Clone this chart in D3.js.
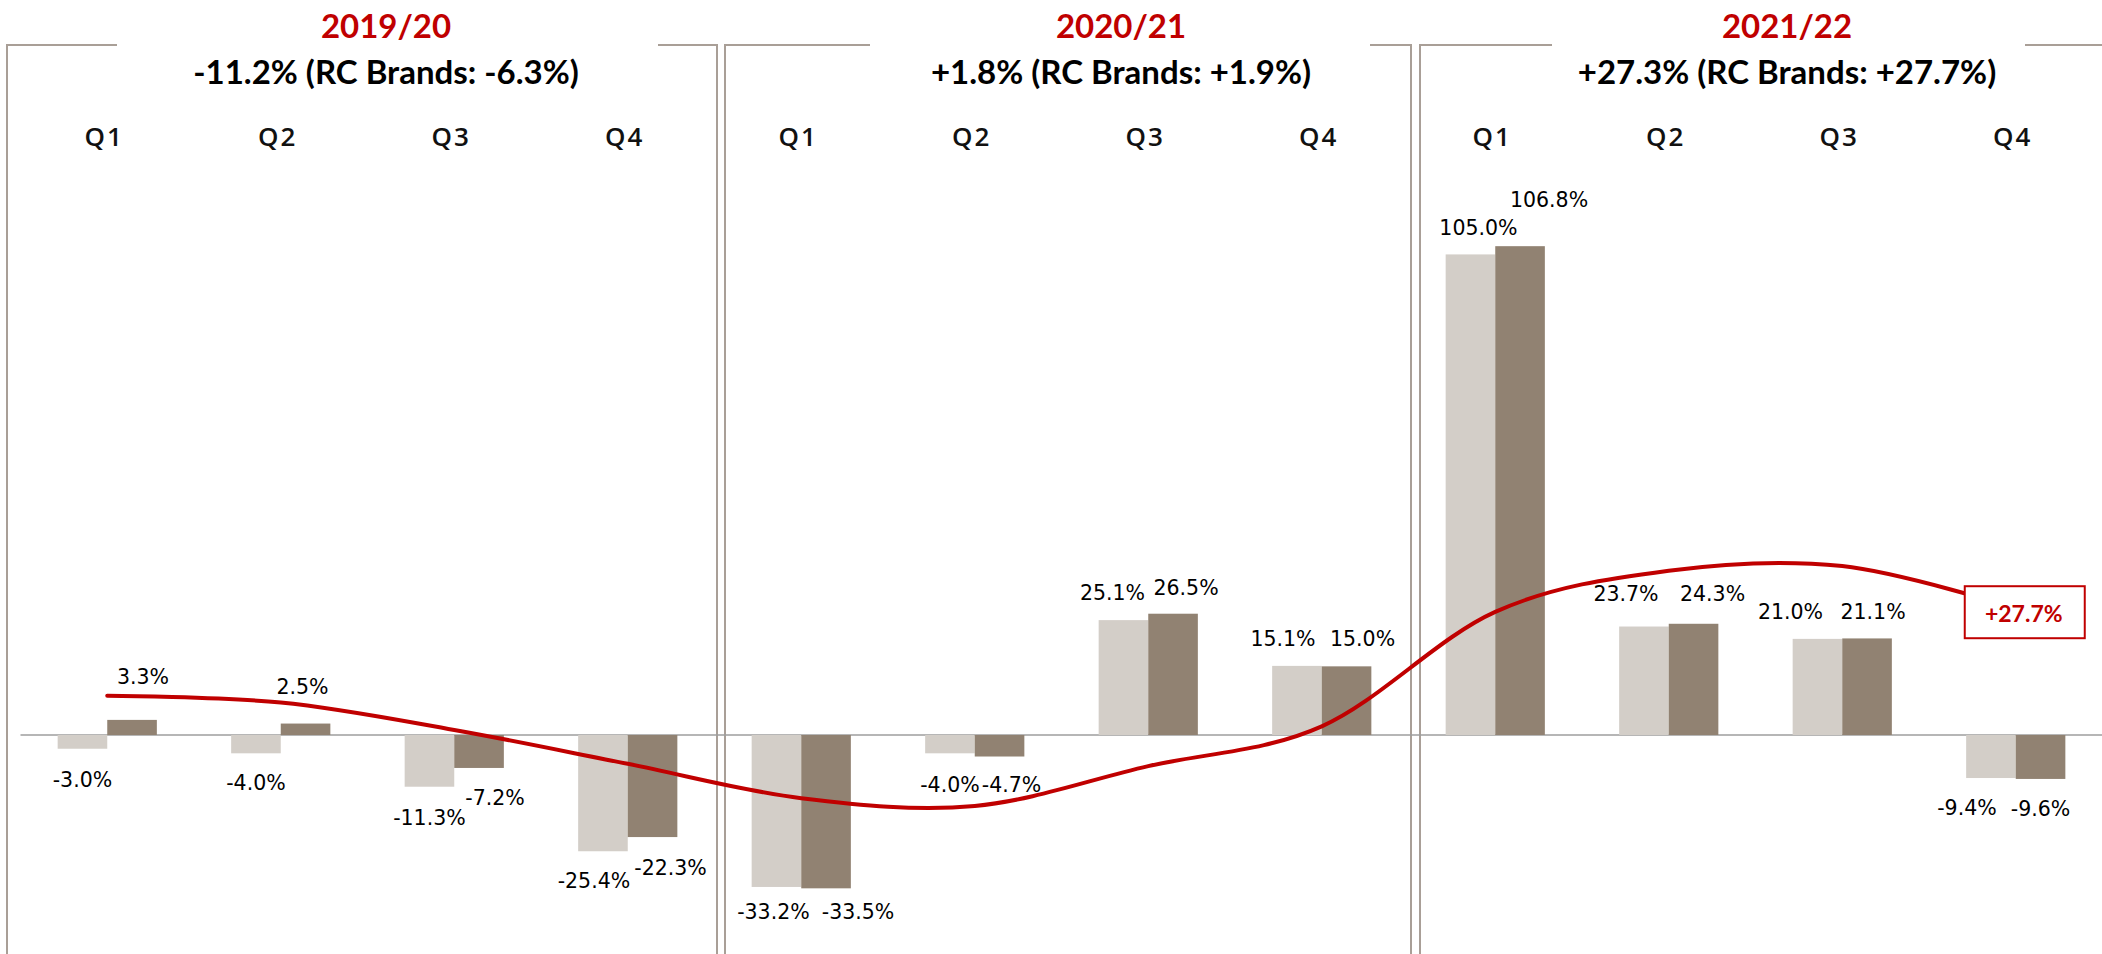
<!DOCTYPE html>
<html>
<head>
<meta charset="utf-8">
<script src="https://cdn.jsdelivr.net/npm/d3@7"></script>
<style>
  html, body { margin: 0; padding: 0; background: #fff; }
  svg { display: block; }
</style>
</head>
<body>
<svg id="chart" width="2102" height="954"></svg>
<script>
// ---------------- data ----------------
const years = ["2019/20", "2020/21", "2021/22"];
const yearSummary = ["-11.2% (RC Brands: -6.3%)", "+1.8% (RC Brands: +1.9%)", "+27.3% (RC Brands: +27.7%)"];
const quarters = ["Q1", "Q2", "Q3", "Q4"];
const categories = years.flatMap(y => quarters.map(q => y + " " + q));
const totalGrowth    = [-3.0, -4.0, -11.3, -25.4, -33.2, -4.0, 25.1, 15.1, 105.0, 23.7, 21.0, -9.4];
const rcBrandsGrowth = [ 3.3,  2.5,  -7.2, -22.3, -33.5, -4.7, 26.5, 15.0, 106.8, 24.3, 21.1, -9.6];
const rcBrandsLTM    = [ 8.6,  7.1,   1.1,  -6.3, -13.8, -15.5, -6.8, 1.9, 26.9, 35.9, 36.9, 27.7];
const calloutText = "+27.7%";

// ---------------- layout (label nudges, panels) ----------------
const nudgeTotal = [[0,31],[0,30],[0,31],[-9,30],[-3,25],[0,32],[-11,-27],[-14,-27],[8,-26],[-18,-33],[-27,-27],[-24,30]];
const nudgeRc    = [[11,-43],[-3,-37],[16,30],[18,31],[32,24],[12,28],[13,-26],[16,-27],[29,-46],[19,-30],[6,-26],[0,30]];
const panels = [
  {left: 7,    right: 717,  gapL: 117,  gapR: 658,  cx: 386},
  {left: 725,  right: 1411, gapL: 870,  gapR: 1370, cx: 1121},
  {left: 1420, right: null, gapL: 1552, gapR: 2025, cx: 1787}
];

const W = 2102, H = 954;
const svg = d3.select("#chart");

const x = d3.scaleBand().domain(categories).range([20.5, 2102.5]).paddingInner(0).paddingOuter(0);
const barW = 49.6;
const xs = d3.scaleBand().domain(["total", "rc"])
  .range([x.bandwidth() / 2 - barW, x.bandwidth() / 2 + barW]).padding(0);
const y = d3.scaleLinear().domain([0, 100]).range([735, 277.3]);

const RED = "#C00000", LIGHT = "#D3CEC8", DARK = "#918272", BORDER = "#A99F97";

// panels
const gP = svg.append("g");
panels.forEach((p, i) => {
  gP.append("line").attr("x1", p.left).attr("x2", p.left).attr("y1", 45).attr("y2", H + 5)
    .attr("stroke", BORDER).attr("stroke-width", 2);
  if (p.right !== null)
    gP.append("line").attr("x1", p.right).attr("x2", p.right).attr("y1", 45).attr("y2", H + 5)
      .attr("stroke", BORDER).attr("stroke-width", 2);
  gP.append("line").attr("x1", p.left - 1).attr("x2", p.gapL).attr("y1", 45).attr("y2", 45)
    .attr("stroke", BORDER).attr("stroke-width", 2);
  gP.append("line").attr("x1", p.gapR).attr("x2", p.right !== null ? p.right + 1 : W).attr("y1", 45).attr("y2", 45)
    .attr("stroke", BORDER).attr("stroke-width", 2);
  gP.append("text").attr("x", p.cx).attr("y", 38).attr("text-anchor", "middle")
    .attr("font-family", "Lato, 'Open Sans', sans-serif").attr("font-weight", 700).attr("font-size", 33)
    .attr("fill", RED).text(years[i]);
  gP.append("text").attr("x", p.cx).attr("y", 84).attr("text-anchor", "middle")
    .attr("font-family", "Lato, 'Open Sans', sans-serif").attr("font-weight", 700).attr("font-size", 33)
    .attr("fill", "#000").text(yearSummary[i]);
});

// quarter labels
svg.append("g").selectAll("text").data(categories).join("text")
  .attr("x", d => x(d) + x.bandwidth() / 2 - 3)
  .attr("y", 145.5)
  .attr("text-anchor", "middle")
  .attr("font-family", "'Open Sans', sans-serif").attr("font-weight", 600).attr("font-size", 26)
  .attr("letter-spacing", 2)
  .attr("fill", "#111")
  .text(d => d.split(" ")[1]);

// zero line
svg.append("line").attr("x1", 20.5).attr("x2", W).attr("y1", y(0)).attr("y2", y(0))
  .attr("stroke", "#9E9E9E").attr("stroke-width", 1.6);

// bars
const series = [
  {key: "total", values: totalGrowth, color: LIGHT, nudge: nudgeTotal},
  {key: "rc", values: rcBrandsGrowth, color: DARK, nudge: nudgeRc}
];
const gB = svg.append("g");
series.forEach(s => {
  gB.selectAll(null).data(s.values).join("rect")
    .attr("x", (v, i) => x(categories[i]) + xs(s.key))
    .attr("width", xs.bandwidth())
    .attr("y", v => Math.min(y(v), y(0)))
    .attr("height", v => Math.abs(y(v) - y(0)))
    .attr("fill", s.color);
});

// LTM red line
const line = d3.line()
  .x((v, i) => x(categories[i]) + x.bandwidth() / 2)
  .y(v => y(v))
  .curve(d3.curveCatmullRom.alpha(0));
svg.append("path").datum(rcBrandsLTM).attr("d", line)
  .attr("fill", "none").attr("stroke", RED).attr("stroke-width", 4).attr("stroke-linecap", "round");

// bar labels
const fmt = v => v.toFixed(1) + "%";
const gL = svg.append("g");
series.forEach(s => {
  gL.selectAll(null).data(s.values).join("text")
    .attr("x", (v, i) => x(categories[i]) + xs(s.key) + xs.bandwidth() / 2 + s.nudge[i][0])
    .attr("y", (v, i) => y(v) + s.nudge[i][1])
    .attr("text-anchor", "middle")
    .attr("dominant-baseline", "central")
    .attr("font-family", "'DejaVu Sans', sans-serif").attr("font-size", 20.5)
    .attr("fill", "#000")
    .text(v => fmt(v));
});

// callout box at last LTM point
const lastI = rcBrandsLTM.length - 1;
const bx = x(categories[lastI]) + x.bandwidth() / 2 + 9;
const by = y(rcBrandsLTM[lastI]) + 4;
svg.append("rect").attr("x", bx - 60).attr("y", by - 26).attr("width", 120).attr("height", 52)
  .attr("fill", "#fff").attr("stroke", RED).attr("stroke-width", 2);
svg.append("text").attr("x", bx - 1).attr("y", by + 1).attr("text-anchor", "middle")
  .attr("dominant-baseline", "central")
  .attr("font-family", "Lato, 'Open Sans', sans-serif").attr("font-weight", 700).attr("font-size", 23)
  .attr("fill", RED).text(calloutText);
</script>
</body>
</html>
